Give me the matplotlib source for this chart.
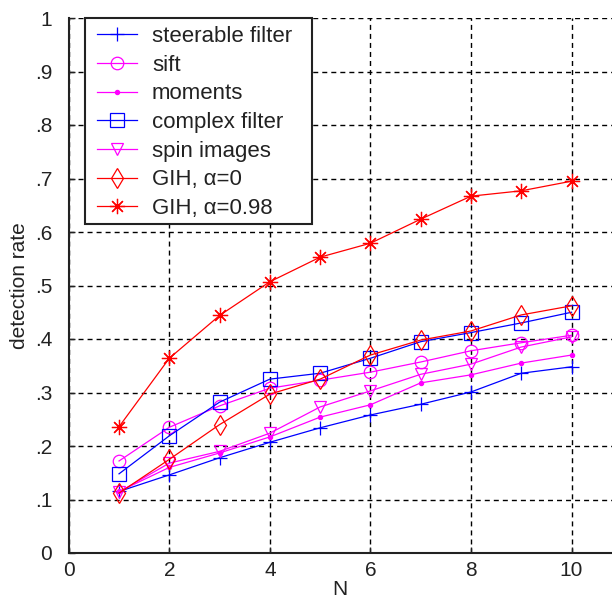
import matplotlib
matplotlib.use("Agg")
import matplotlib.pyplot as plt
from matplotlib.patches import Rectangle

plt.rcParams['font.family'] = ['Liberation Sans', 'DejaVu Sans']
plt.rcParams['lines.scale_dashes'] = False

N = [1, 2, 3, 4, 5, 6, 7, 8, 9, 10]

steerable_filter = [0.115, 0.146, 0.178, 0.207, 0.234, 0.258, 0.278, 0.301, 0.336, 0.348]
sift = [0.172, 0.235, 0.275, 0.308, 0.323, 0.338, 0.357, 0.378, 0.393, 0.407]
moments = [0.115, 0.160, 0.187, 0.217, 0.254, 0.277, 0.318, 0.333, 0.355, 0.370]
complex_filter = [0.148, 0.219, 0.282, 0.325, 0.336, 0.364, 0.395, 0.412, 0.430, 0.450]
spin_images = [0.114, 0.168, 0.190, 0.224, 0.273, 0.303, 0.334, 0.353, 0.385, 0.404]
gih_a0 = [0.112, 0.175, 0.240, 0.297, 0.325, 0.370, 0.398, 0.415, 0.445, 0.462]
gih_a098 = [0.236, 0.364, 0.444, 0.507, 0.553, 0.579, 0.624, 0.667, 0.677, 0.695]

x_ticks = [0, 2, 4, 6, 8, 10]
y_ticks = [0, 0.1, 0.2, 0.3, 0.4, 0.5, 0.6, 0.7, 0.8, 0.9, 1.0]
y_tick_labels = ['0', '.1', '.2', '.3', '.4', '.5', '.6', '.7', '.8', '.9', '1']

BLUE = '#0000ff'
MAGENTA = '#ff00ff'
RED = '#ff0000'
INK = '#222222'

W, H = 612, 599
fig = plt.figure(figsize=(W / 100, H / 100), dpi=100)
ax = fig.add_axes([68.75 / W, 46 / H, 1 - 68.75 / W, (553 - 18) / H])

lw = 0.9
mew = 0.9
series = [
    (steerable_filter, BLUE, '+', 10, 'steerable filter'),
    (sift, MAGENTA, 'o', 9, 'sift'),
    (moments, MAGENTA, '.', 6, 'moments'),
    (complex_filter, BLUE, 's', 10, 'complex filter'),
    (spin_images, MAGENTA, 'v', 9, 'spin images'),
    (gih_a0, RED, 'd', 10, 'GIH, α=0'),
    (gih_a098, RED, (8, 2, 0), 11, 'GIH, α=0.98'),
]
for vals, color, marker, ms, label in series:
    ax.plot(N, vals, color=color, lw=lw, marker=marker, ms=ms,
            mfc=color if marker == '.' else 'none',
            mec=color, mew=mew, label=label)

ax.set_xlim(0, (W - 68.75) / 50.28)
ax.set_ylim(0, 1)
ax.set_xticks(x_ticks)
ax.set_yticks(y_ticks)
ax.set_yticklabels(y_tick_labels)

ax.grid(True, color='black', linestyle=(0, (3.6, 2.9)), linewidth=1.0)
ax.spines['top'].set_visible(False)
ax.spines['right'].set_visible(False)
for s in ('left', 'bottom'):
    ax.spines[s].set_color(INK)
    ax.spines[s].set_linewidth(1.5)

ax.tick_params(direction='in', length=4, width=1, labelsize=15, colors=INK)
ax.tick_params(axis='y', pad=12)
ax.tick_params(axis='x', pad=6)

ax.set_xlabel('N', fontsize=15, labelpad=0, color=INK)
ax.set_ylabel('detection rate', fontsize=15, labelpad=4, color=INK)

# legend box: white panel with dark border, entries placed inside it
box_l, box_t, box_r, box_b = 85, 18, 312, 224
panel = Rectangle((box_l / W, 1 - box_b / H), (box_r - box_l) / W, (box_b - box_t) / H,
                  transform=fig.transFigure, facecolor='white', edgecolor=INK,
                  linewidth=1.5, zorder=4.5, clip_on=False)
ax.add_artist(panel)

leg = ax.legend(loc='upper left', bbox_to_anchor=(97 / W, 1 - 26 / H),
                bbox_transform=fig.transFigure, borderaxespad=0, borderpad=0,
                prop={'size': 16}, frameon=False,
                handlelength=40 / 22.2, handletextpad=15 / 22.2,
                labelspacing=0.345)
leg.set_zorder(6)
for t in leg.get_texts():
    t.set_color(INK)

fig.savefig('out.png', dpi=100)
